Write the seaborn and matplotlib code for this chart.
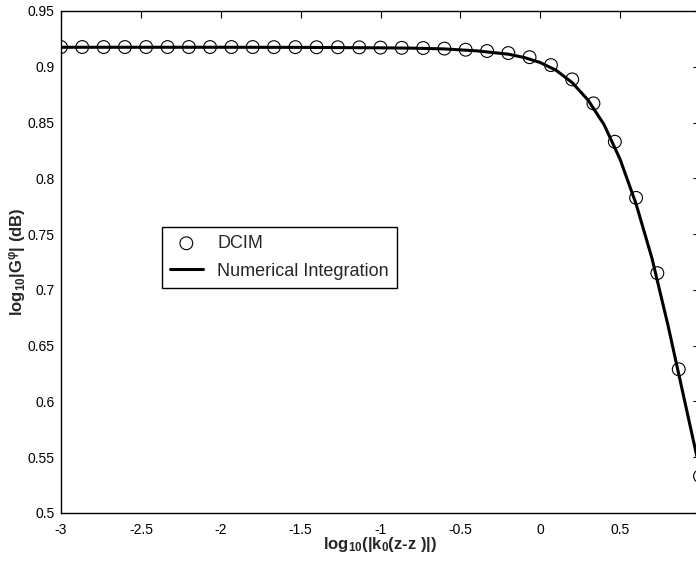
import numpy as np
import pandas as pd
import matplotlib
matplotlib.use("Agg")
import matplotlib.pyplot as plt
import seaborn as sns

# DCIM samples (log10 |k0 (z-z')|, log10 |G^phi|)
dcim_x = [-3.000, -2.867, -2.733, -2.600, -2.467, -2.333, -2.200, -2.067,
          -1.933, -1.800, -1.667, -1.533, -1.400, -1.267, -1.133, -1.000,
          -0.867, -0.733, -0.600, -0.467, -0.333, -0.200, -0.067, 0.067,
          0.200, 0.333, 0.467, 0.600, 0.733, 0.867, 1.000]
dcim_y = [0.9177, 0.9177, 0.9177, 0.9177, 0.9177, 0.9177, 0.9177, 0.9177,
          0.9177, 0.9177, 0.9176, 0.9176, 0.9175, 0.9175, 0.9174, 0.9172,
          0.9170, 0.9168, 0.9163, 0.9153, 0.9141, 0.9123, 0.9086, 0.9015,
          0.8887, 0.8672, 0.8328, 0.7825, 0.7150, 0.6288, 0.5330]

# Numerical integration curve
num_x = [-3.0, -2.5, -2.0, -1.5, -1.0, -0.8, -0.6, -0.4, -0.2, -0.1,
         0.0, 0.1, 0.2, 0.3, 0.4, 0.5, 0.6, 0.7, 0.8, 0.9, 1.0]
num_y = [0.9175, 0.9175, 0.9175, 0.9174, 0.9170, 0.9167, 0.9160, 0.9143,
         0.9113, 0.9083, 0.9038, 0.8968, 0.8858, 0.8700, 0.8480, 0.8170,
         0.7770, 0.7280, 0.6680, 0.6030, 0.5380]

x_ticks = [-3, -2.5, -2, -1.5, -1, -0.5, 0, 0.5]
x_ticklabels = ["-3", "-2.5", "-2", "-1.5", "-1", "-0.5", "0", "0.5"]
y_ticks = [0.5, 0.55, 0.6, 0.65, 0.7, 0.75, 0.8, 0.85, 0.9, 0.95]
y_ticklabels = ["0.5", "0.55", "0.6", "0.65", "0.7", "0.75", "0.8", "0.85", "0.9", "0.95"]

sns.set_style("white")
plt.rcParams["font.family"] = ["Liberation Sans", "DejaVu Sans"]
plt.rcParams["mathtext.fontset"] = "custom"
plt.rcParams["mathtext.rm"] = "Liberation Sans:bold"
plt.rcParams["mathtext.bf"] = "Liberation Sans:bold"
plt.rcParams["mathtext.it"] = "Liberation Sans:bold"
plt.rcParams["mathtext.default"] = "bf"

fig = plt.figure(figsize=(6.96, 5.66), dpi=100)
W, H = 696, 566
ax = fig.add_axes([61 / W, (H - 513) / H, (700 - 61) / W, (513 - 11) / H])

df_num = pd.DataFrame({"x": num_x, "y": num_y})
df_dcim = pd.DataFrame({"x": dcim_x, "y": dcim_y})

sns.lineplot(data=df_num, x="x", y="y", ax=ax, color="black", linewidth=2.2,
             label="Numerical Integration", sort=False)
sns.scatterplot(data=df_dcim, x="x", y="y", ax=ax, marker="o", s=85,
                facecolor="none", edgecolor="black", linewidth=0.8,
                label="DCIM", clip_on=True, zorder=3)

ax.set_xlim(-3, 1)
ax.set_ylim(0.5, 0.95)
ax.set_xticks(x_ticks)
ax.set_xticklabels(x_ticklabels)
ax.set_yticks(y_ticks)
ax.set_yticklabels(y_ticklabels)
ax.tick_params(direction="in", length=5, width=0.8, top=True, right=True,
               labelsize=10, colors="black")
ax.tick_params(axis="x", pad=7)
ax.tick_params(axis="y", pad=4.5)
for s in ax.spines.values():
    s.set_color("black")
    s.set_linewidth(1.0)

ax.set_xlabel("log$_{10}$(|k$_0$(z-z )|)", fontsize=12, fontweight="bold", labelpad=-1)
ax.set_ylabel("log$_{10}$|G$^{φ}$| (dB)", fontsize=12, fontweight="bold", labelpad=0)

handles, labels = ax.get_legend_handles_labels()
order = [labels.index("DCIM"), labels.index("Numerical Integration")]
leg = ax.legend([handles[i] for i in order], [labels[i] for i in order],
                loc="upper left", bbox_to_anchor=(0.158, 0.570),
                borderaxespad=0, fancybox=False, framealpha=1,
                edgecolor="black", fontsize=13, handlelength=1.8,
                borderpad=0.45, labelspacing=0.6, handletextpad=0.8)
leg.get_frame().set_linewidth(1.0)

fig.savefig("out.png", dpi=100)
